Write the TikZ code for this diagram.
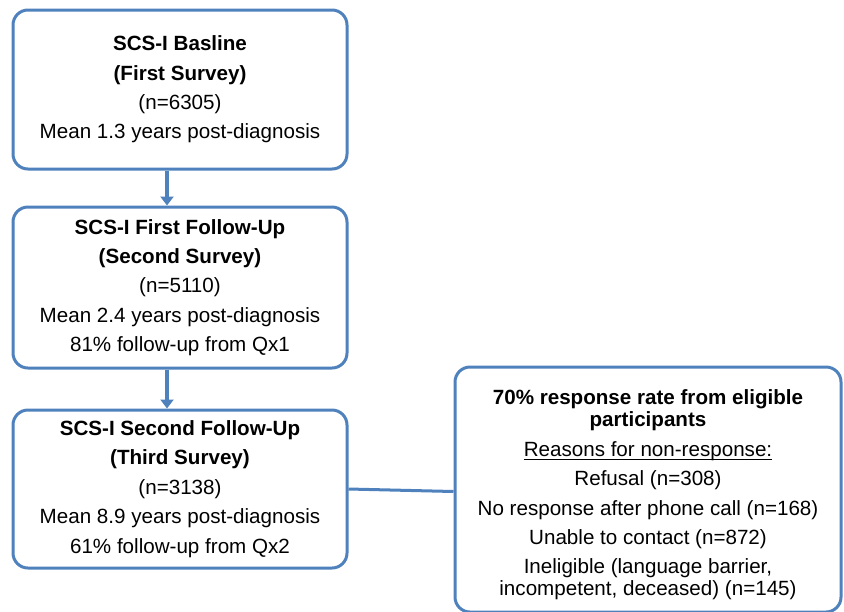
\documentclass[tikz,border=0pt]{standalone}
\usepackage{fontspec}
\setmainfont{Liberation Sans}
\usetikzlibrary{arrows.meta}
\definecolor{boxblue}{HTML}{4F81BD}
\newcommand{\ulinetext}[1]{\leavevmode\setbox0\hbox{#1}\rlap{\rule[-1.8pt]{\wd0}{0.5pt}}\box0}
\begin{document}
\begin{tikzpicture}[x=0.5pt,y=-0.5pt,line width=1.5pt,
    main node/.style={rectangle,rounded corners=7.5pt,draw=boxblue,fill=white,align=center,inner sep=0pt,
        font=\fontsize{10.3}{11}\selectfont},
    flow arrow/.style={draw=boxblue,line width=2pt,-{Triangle[width=6.5pt,length=4.5pt]}}]
                \useasboundingbox (0,0) rectangle (844,611);
                \node[main node,minimum width=167pt,minimum height=79.5pt] at (180, 89.5) (base) {\textbf{SCS-I Basline}\\[3.7pt]\textbf{(First Survey)}\\[3.7pt](n=6305)\\[3.7pt]Mean 1.3 years post-diagnosis};
                \node[main node,minimum width=167pt,minimum height=80.5pt] at (180, 287.5) (fu1) {\textbf{SCS-I First Follow-Up}\\[3.7pt]\textbf{(Second Survey)}\\[3.7pt](n=5110)\\[3.7pt]Mean 2.4 years post-diagnosis\\[3.7pt]81\% follow-up from Qx1};
                \node[main node,minimum width=167pt,minimum height=79pt] at (180, 489) (fu2) {\textbf{SCS-I Second Follow-Up}\\[3.7pt]\textbf{(Third Survey)}\\[3.7pt](n=3138)\\[3.7pt]Mean 8.9 years post-diagnosis\\[3.7pt]61\% follow-up from Qx2};
                \node[main node,minimum width=193pt,minimum height=122.5pt] at (648, 489.5) (nonresp) {\rule{0pt}{13pt}\textbf{70\% response rate from eligible}\\\textbf{participants}\\[3.7pt]\ulinetext{Reasons for non-response:}\\[3.7pt]Refusal (n=308)\\[3.7pt]No response after phone call (n=168)\\[3.7pt]Unable to contact (n=872)\\[3.7pt]Ineligible (language barrier,\\incompetent, deceased) (n=145)};

                \path
                    ([xshift=-6.5pt]base.south) edge[flow arrow] ([xshift=-6.5pt]fu1.north)
                    ([xshift=-6.5pt]fu1.south) edge[flow arrow] ([xshift=-6.5pt]fu2.north)
                    ;
                \draw[boxblue] (fu2.east) -- ([yshift=-1pt]nonresp.west);
            \end{tikzpicture}
\end{document}
